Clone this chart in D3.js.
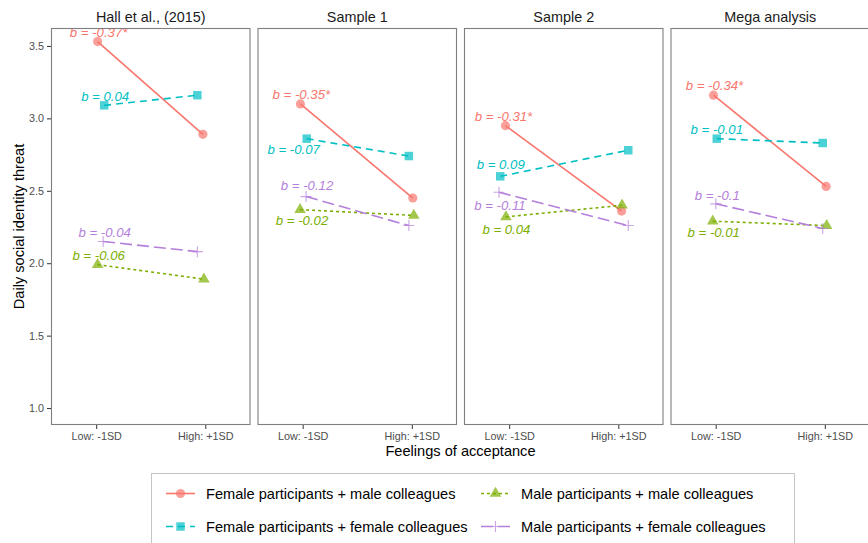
<!DOCTYPE html>
<html>
<head>
<meta charset="utf-8">
<script src="https://cdn.jsdelivr.net/npm/d3@7"></script>
<style>
  body { margin: 0; background: #fff; }
  svg { display: block; font-family: "Liberation Sans", Arial, Helvetica, sans-serif; }
</style>
</head>
<body>
<svg id="chart" width="868" height="543"></svg>
<script>
// ---- data ----------------------------------------------------------------
const panels = ["Hall et al., (2015)", "Sample 1", "Sample 2", "Mega analysis"];
const levels = ["Low: -1SD", "High: +1SD"];
const seriesNames = [
  "Female participants + male colleagues",
  "Female participants + female colleagues",
  "Male participants + male colleagues",
  "Male participants + female colleagues"
];
const yTicks = [1.0, 1.5, 2.0, 2.5, 3.0, 3.5];

// predicted threat at [low, high] acceptance, one pair per panel
const femaleMale   = [[3.53, 2.89], [3.10, 2.45], [2.95, 2.36], [3.16, 2.53]];
const femaleFemale = [[3.09, 3.16], [2.86, 2.74], [2.60, 2.78], [2.86, 2.83]];
const maleMale     = [[1.99, 1.89], [2.37, 2.33], [2.32, 2.40], [2.29, 2.26]];
const maleFemale   = [[2.15, 2.08], [2.46, 2.26], [2.49, 2.26], [2.41, 2.24]];

// simple slopes shown next to each line
const slopeFemaleMale   = ["-0.37*", "-0.35*", "-0.31*", "-0.34*"];
const slopeFemaleFemale = ["0.04", "-0.07", "0.09", "-0.01"];
const slopeMaleMale     = ["-0.06", "-0.02", "0.04", "-0.01"];
const slopeMaleFemale   = ["-0.04", "-0.12", "-0.11", "-0.1"];

// small horizontal jitter of the points (x units, Low = 0, High = 1)
const jitterFemaleMale   = [[0.013, -0.022], [-0.021, 0.009], [-0.034, 0.030], [-0.020, 0.012]];
const jitterFemaleFemale = [[0.073, -0.073], [0.037, -0.027], [-0.082, 0.091], [0.010, -0.019]];
const jitterMaleMale     = [[0.013, -0.013], [-0.024, 0.018], [-0.030, 0.034], [-0.027, 0.017]];
const jitterMaleFemale   = [[0.064, -0.073], [0.031, -0.027], [-0.094, 0.091], [0.001, -0.019]];

// slope label offset from the low point, in pixels [dx, dy]
const labelOffset = [
  [[1, -9.5], [1, -9.5], [1, -9], [1.5, -9]],
  [[1, -10], [-13, 11], [2, 11], [1, -11.5]],
  [[-2, -9.5], [0.5, -12], [0.5, 12], [1, 13.5]],
  [[1, -9.5], [0, -9.5], [1, 11.5], [1.5, -9]]
];

// ---- series styling ------------------------------------------------------
const series = [
  { name: seriesNames[0], values: femaleMale,   slope: slopeFemaleMale,   jitter: jitterFemaleMale,   color: "#F8766D", dash: null,   shape: "circle" },
  { name: seriesNames[1], values: femaleFemale, slope: slopeFemaleFemale, jitter: jitterFemaleFemale, color: "#00BFC4", dash: "7,5",  shape: "square" },
  { name: seriesNames[2], values: maleMale,     slope: slopeMaleMale,     jitter: jitterMaleMale,     color: "#7CAE00", dash: "3,3",  shape: "triangle" },
  { name: seriesNames[3], values: maleFemale,   slope: slopeMaleFemale,   jitter: jitterMaleFemale,   color: "#B57FDC", dash: "12,5", shape: "plus" }
];

// ---- layout --------------------------------------------------------------
const svg = d3.select("#chart");
const panelTop = 28, panelBottom = 425;
const panelW = 199.5, panelGap = 7, firstLeft = 51;

const y = d3.scaleLinear().domain([0.883, 3.624]).range([panelBottom, panelTop]);

function drawSymbol(g, shape, color, cx, cy) {
  if (shape === "plus") {
    const h = 5.5;
    g.append("path")
      .attr("d", `M${cx - h},${cy}H${cx + h}M${cx},${cy - h}V${cy + h}`)
      .attr("stroke", color).attr("stroke-width", 1.1)
      .attr("stroke-opacity", 0.7).attr("fill", "none");
    return;
  }
  const type = shape === "circle" ? d3.symbolCircle
             : shape === "square" ? d3.symbolSquare : d3.symbolTriangle;
  const size = shape === "circle" ? 66 : shape === "square" ? 72 : 58;
  g.append("path")
    .attr("d", d3.symbol().type(type).size(size)())
    .attr("transform", `translate(${cx},${cy})`)
    .attr("fill", color).attr("fill-opacity", 0.7);
}

panels.forEach((title, p) => {
  const left = firstLeft + p * (panelW + panelGap);
  const x = d3.scaleLinear().domain([-0.414, 1.414]).range([left, left + panelW]);
  const g = svg.append("g");

  // strip title
  g.append("text")
    .attr("x", left + panelW / 2).attr("y", 22)
    .attr("text-anchor", "middle")
    .attr("font-size", 14.4).attr("fill", "#1A1A1A")
    .text(title);

  // x axis
  const xAxis = d3.axisBottom(x).tickValues([0, 1]).tickFormat(i => levels[i])
    .tickSizeInner(4).tickSizeOuter(0).tickPadding(3);
  const ax = g.append("g").attr("transform", `translate(0,${panelBottom})`).call(xAxis);
  ax.select(".domain").remove();
  ax.selectAll(".tick line").attr("stroke", "#333");
  ax.selectAll(".tick text").attr("font-size", 10.8).attr("fill", "#4D4D4D")
    .attr("font-family", null);

  // y axis on the first panel only
  if (p === 0) {
    const yAxis = d3.axisLeft(y).tickValues(yTicks).tickFormat(d3.format(".1f"))
      .tickSizeInner(4).tickSizeOuter(0).tickPadding(3);
    const ay = g.append("g").attr("transform", `translate(${left},0)`).call(yAxis);
    ay.select(".domain").remove();
    ay.selectAll(".tick line").attr("stroke", "#333");
    ay.selectAll(".tick text").attr("font-size", 10.8).attr("fill", "#4D4D4D")
      .attr("font-family", null);
  }

  const plot = g.append("g");

  // lines
  series.forEach(s => {
    const pts = s.values[p].map((v, i) => [x(i + s.jitter[p][i]), y(v)]);
    plot.append("path")
      .attr("d", d3.line()(pts))
      .attr("fill", "none")
      .attr("stroke", s.color)
      .attr("stroke-width", 1.6)
      .attr("stroke-dasharray", s.dash);
  });

  // points
  series.forEach(s => {
    s.values[p].forEach((v, i) => {
      drawSymbol(plot, s.shape, s.color, x(i + s.jitter[p][i]), y(v));
    });
  });

  // slope labels
  series.forEach((s, k) => {
    const off = labelOffset[p][k];
    plot.append("text")
      .attr("x", x(0 + s.jitter[p][0]) + off[0])
      .attr("y", y(s.values[p][0]) + off[1])
      .attr("dy", "0.36em")
      .attr("text-anchor", "middle")
      .attr("font-size", 13.2).attr("font-style", "italic")
      .attr("fill", s.color)
      .text("b = " + s.slope[p]);
  });

  // panel border
  g.append("rect")
    .attr("x", left + 0.5).attr("y", panelTop + 0.5)
    .attr("width", panelW - 1).attr("height", panelBottom - panelTop - 1)
    .attr("fill", "none").attr("stroke", "#7F7F7F").attr("stroke-width", 1.1);
});

// axis titles
svg.append("text")
  .attr("x", firstLeft + (4 * panelW + 3 * panelGap) / 2).attr("y", 456)
  .attr("text-anchor", "middle").attr("font-size", 14.6).attr("fill", "#000")
  .text("Feelings of acceptance");

svg.append("text")
  .attr("transform", `translate(24,${(panelTop + panelBottom) / 2}) rotate(-90)`)
  .attr("text-anchor", "middle").attr("font-size", 14.6).attr("fill", "#000")
  .text("Daily social identity threat");

// ---- legend --------------------------------------------------------------
const legend = svg.append("g");
legend.append("rect")
  .attr("x", 151.5).attr("y", 473.5).attr("width", 643).attr("height", 90)
  .attr("fill", "#fff").attr("stroke", "#C4C4C4").attr("stroke-width", 1);

// two columns: male colleagues on the first row, female colleagues on the second
const colX = [166, 481], rowY = [493.5, 526.5], keyW = 29;
series.forEach((s, k) => {
  const c = k < 2 ? 0 : 1;
  const r = k % 2;
  const kx = colX[c], ky = rowY[r];
  const item = legend.append("g");
  item.append("line")
    .attr("x1", kx).attr("x2", kx + keyW).attr("y1", ky).attr("y2", ky)
    .attr("stroke", s.color).attr("stroke-width", 1.6)
    .attr("stroke-dasharray", s.dash);
  drawSymbol(item, s.shape, s.color, kx + keyW / 2, ky);
  item.append("text")
    .attr("x", kx + keyW + 11).attr("y", ky).attr("dy", "0.36em")
    .attr("font-size", 14.6).attr("fill", "#000")
    .text(s.name);
});
</script>
</body>
</html>
